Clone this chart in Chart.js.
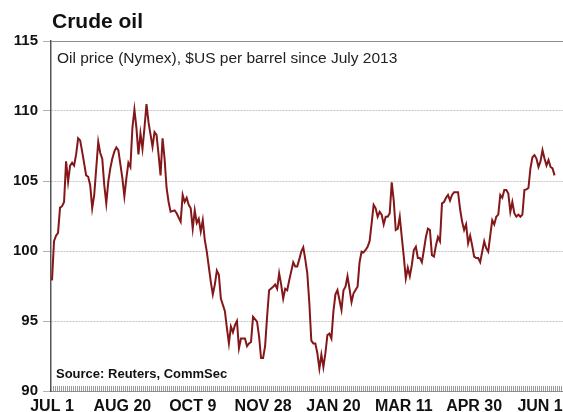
<!DOCTYPE html>
<html>
<head>
<meta charset="utf-8">
<title>Crude oil</title>
<script src="https://cdn.jsdelivr.net/npm/chart.js@4/dist/chart.umd.min.js"></script>
<style>
  html, body { margin: 0; padding: 0; background: #fff; }
</style>
</head>
<body>
<canvas id="oil-chart" width="563" height="412"></canvas>
<script>
// trading days counted from 1 July 2013, Nymex close in $US/bbl
const tradingDay = [
  0, 1, 2, 3, 4, 5, 6, 7, 8, 9, 10, 11, 12, 13, 14, 15, 17, 18, 19, 20, 21, 23, 24, 25, 26, 27, 28, 29, 30,
  31, 32, 33, 35, 36, 37, 38, 39, 40, 41, 42, 43, 44, 45, 46, 47, 48, 50, 51, 52, 53, 54, 55, 56, 57, 58, 59,
  61, 62, 64, 65, 66, 67, 68, 69, 70, 71, 72, 73, 74, 75, 76, 77, 79, 80, 81, 82, 83, 84, 86, 87, 88, 89, 90,
  91, 92, 93, 94, 96, 97, 98, 99, 100, 102, 103, 104, 105, 106, 107, 108, 110, 111, 112, 113, 114, 115, 116,
  117, 118, 120, 121, 122, 123, 124, 125, 126, 127, 128, 129, 130, 131, 132, 133, 134, 135, 136, 137, 138,
  139, 140, 141, 142, 144, 145, 146, 147, 148, 149, 150, 152, 153, 154, 155, 156, 157, 158, 159, 160, 161,
  162, 163, 164, 165, 166, 167, 168, 169, 170, 171, 172, 173, 174, 175, 176, 177, 178, 179, 180, 181, 182,
  183, 184, 185, 186, 187, 188, 189, 190, 191, 192, 193, 194, 195, 196, 197, 198, 199, 200, 202, 203, 204,
  205, 206, 207, 208, 209, 210, 211, 212, 213, 214, 215, 216, 217, 218, 219, 220, 221, 222, 223, 224, 225,
  226, 227, 228, 229, 230, 231, 232, 233, 234, 235, 236, 237, 238, 239, 240, 241, 242, 243, 244, 245, 246,
  247, 248, 249, 250
];
const oilPrice = [
  97.9, 100.7, 101.1, 101.3, 103.1, 103.2, 103.5, 106.4, 104.95, 106.1, 106.3, 106.1, 106.9, 108.05, 107.9, 107.1,
  105.4, 105.3, 104.7, 103.05, 104.0, 107.8, 107.0, 106.6, 104.7, 103.4, 104.95, 105.9, 106.6,
  107.1, 107.4, 107.2, 105.2, 103.9, 105.2, 106.3, 106.0, 108.8, 110.1, 108.8, 106.9, 108.4, 107.3, 108.8, 110.5,
  109.2, 107.45, 108.5, 108.3, 106.9, 105.4, 108.05, 106.6, 104.5, 103.5, 102.8,
  102.9, 102.7, 102.1, 104.0, 103.5, 103.8, 103.3, 103.05, 101.6, 102.9, 102.0, 102.3, 101.4, 102.2, 100.8, 99.95,
  97.8, 96.9, 97.6, 98.6, 98.3, 96.6, 95.7, 94.5, 93.4, 94.6, 94.2,
  94.7, 95.0, 93.05, 93.75, 93.75, 93.2, 93.4, 93.5, 95.3, 94.95, 93.9, 92.35, 92.35, 93.2, 95.3, 97.2, 97.45,
  97.6, 97.3, 98.4, 97.6, 96.6, 97.3,
  97.2, 97.9, 99.2, 98.9, 98.9, 99.4, 99.95, 100.26, 99.4, 98.4, 96.3, 93.6, 93.4, 93.4, 92.7, 91.6, 92.6, 91.7,
  92.7, 94.0, 94.1,
  93.75, 95.7, 96.9, 97.2, 95.8, 97.2, 97.45, 98.2, 97.3, 96.35, 96.98, 97.45, 99.2, 99.95, 99.9, 100.07, 100.3,
  100.7, 101.98, 103.3, 103.05,
  102.45, 102.8, 102.6, 101.9, 102.45, 102.45, 102.7, 104.9, 103.6, 101.5, 101.6, 102.45, 101.0, 99.6, 98.05,
  98.8, 98.2, 99.0, 100.07, 100.3, 99.5,
  99.5, 99.2, 100.07, 101.0, 101.6, 101.5, 99.7, 99.6, 100.4, 101.0, 100.7, 103.4, 103.5, 103.8, 104.0, 103.6,
  104.0, 104.2, 104.2, 103.0, 102.1,
  101.5, 101.9, 100.55, 101.1, 100.4, 99.6, 99.5, 99.5, 99.2, 99.95, 100.7, 100.2, 99.95, 101.1, 102.2, 101.9,
  102.45, 102.6, 104.0, 103.8, 104.35,
  104.35, 104.1, 102.8, 103.5, 102.7, 102.45, 102.6, 102.45, 102.6, 104.35, 104.4, 104.5, 105.9, 106.7, 106.85,
  106.6, 106.0, 106.4, 107.2, 106.6, 106.1,
  106.5, 106.0, 105.9, 105.4
];

const tickDays = [0, 35, 70, 105, 140, 175, 210, 245];
const tickLabels = ['JUL 1', 'AUG 20', 'OCT 9', 'NOV 28', 'JAN 20', 'MAR 11', 'APR 30', 'JUN 19'];

const chartTitle = 'Crude oil';
const subTitle = 'Oil price (Nymex), $US per barrel since July 2013';
const sourceNote = 'Source: Reuters, CommSec';

const FONT = "'Liberation Sans', Arial, sans-serif";

// title, notes and frame bits that the scales don't draw
const decorations = {
  id: 'decorations',
  beforeDatasetsDraw(chart) {
    const { ctx, chartArea: a } = chart;
    ctx.save();
    // hatched base along the x axis
    ctx.strokeStyle = '#9a9a9a';
    ctx.lineWidth = 5;
    ctx.setLineDash([1, 1]);
    ctx.beginPath();
    ctx.moveTo(a.left, a.bottom - 2.5);
    ctx.lineTo(a.right, a.bottom - 2.5);
    ctx.stroke();
    ctx.setLineDash([]);
    // top frame
    ctx.strokeStyle = '#8c8c8c';
    ctx.lineWidth = 1;
    ctx.beginPath();
    ctx.moveTo(a.left, a.top + 0.5);
    ctx.lineTo(a.right, a.top + 0.5);
    ctx.stroke();
    ctx.restore();
  },
  afterDraw(chart) {
    const { ctx, chartArea: a } = chart;
    ctx.save();
    ctx.fillStyle = '#111';
    ctx.textBaseline = 'alphabetic';
    ctx.textAlign = 'left';
    ctx.font = 'bold 21px ' + FONT;
    ctx.fillText(chartTitle, a.left + 1, 28);
    ctx.font = '15.5px ' + FONT;
    ctx.fillStyle = '#222';
    ctx.fillText(subTitle, a.left + 6, 63);
    ctx.font = 'bold 13px ' + FONT;
    ctx.fillStyle = '#111';
    ctx.fillText(sourceNote, a.left + 5, a.bottom - 13);
    ctx.restore();
  }
};

const ctx = document.getElementById('oil-chart').getContext('2d');

const chart = new Chart(ctx, {
  type: 'line',
  data: {
    datasets: [{
      label: 'Oil price',
      data: tradingDay.map((d, i) => ({ x: d, y: oilPrice[i] })),
      borderColor: '#841719',
      borderWidth: 2,
      pointRadius: 0,
      tension: 0,
      fill: false
    }]
  },
  options: {
    responsive: false,
    animation: false,
    layout: { autoPadding: false, padding: { top: 41, left: 0, right: 0, bottom: 0 } },
    plugins: {
      legend: { display: false },
      title: { display: false },
      tooltip: { enabled: false }
    },
    scales: {
      x: {
        type: 'linear',
        min: -0.5,
        max: 254.2,
        afterFit: (scale) => {
          scale.height = 21;
          scale.paddingLeft = 0;
          scale.paddingRight = 0;
        },
        afterBuildTicks: (scale) => { scale.ticks = tickDays.map(v => ({ value: v })); },
        grid: { display: false, drawTicks: false },
        border: { display: true, color: '#8c8c8c', width: 1 },
        ticks: {
          autoSkip: false,
          maxRotation: 0,
          padding: 6,
          color: '#111',
          font: { family: FONT, size: 16, weight: 'bold' },
          callback: (v) => tickLabels[tickDays.indexOf(v)]
        }
      },
      y: {
        min: 90,
        max: 115,
        afterFit: (scale) => {
          scale.width = 51;
          scale.paddingTop = 0;
          scale.paddingBottom = 0;
        },
        grid: {
          color: '#c4c4c4',
          lineWidth: 1,
          drawTicks: true,
          tickLength: 8,
          tickColor: '#b0b0b0'
        },
        border: { display: true, color: '#555', width: 1.5, dash: [2, 1] },
        ticks: {
          stepSize: 5,
          padding: 5,
          color: '#111',
          font: { family: FONT, size: 15, weight: 'bold' }
        }
      }
    }
  },
  plugins: [decorations]
}); // closes chart
</script>
</body>
</html>
